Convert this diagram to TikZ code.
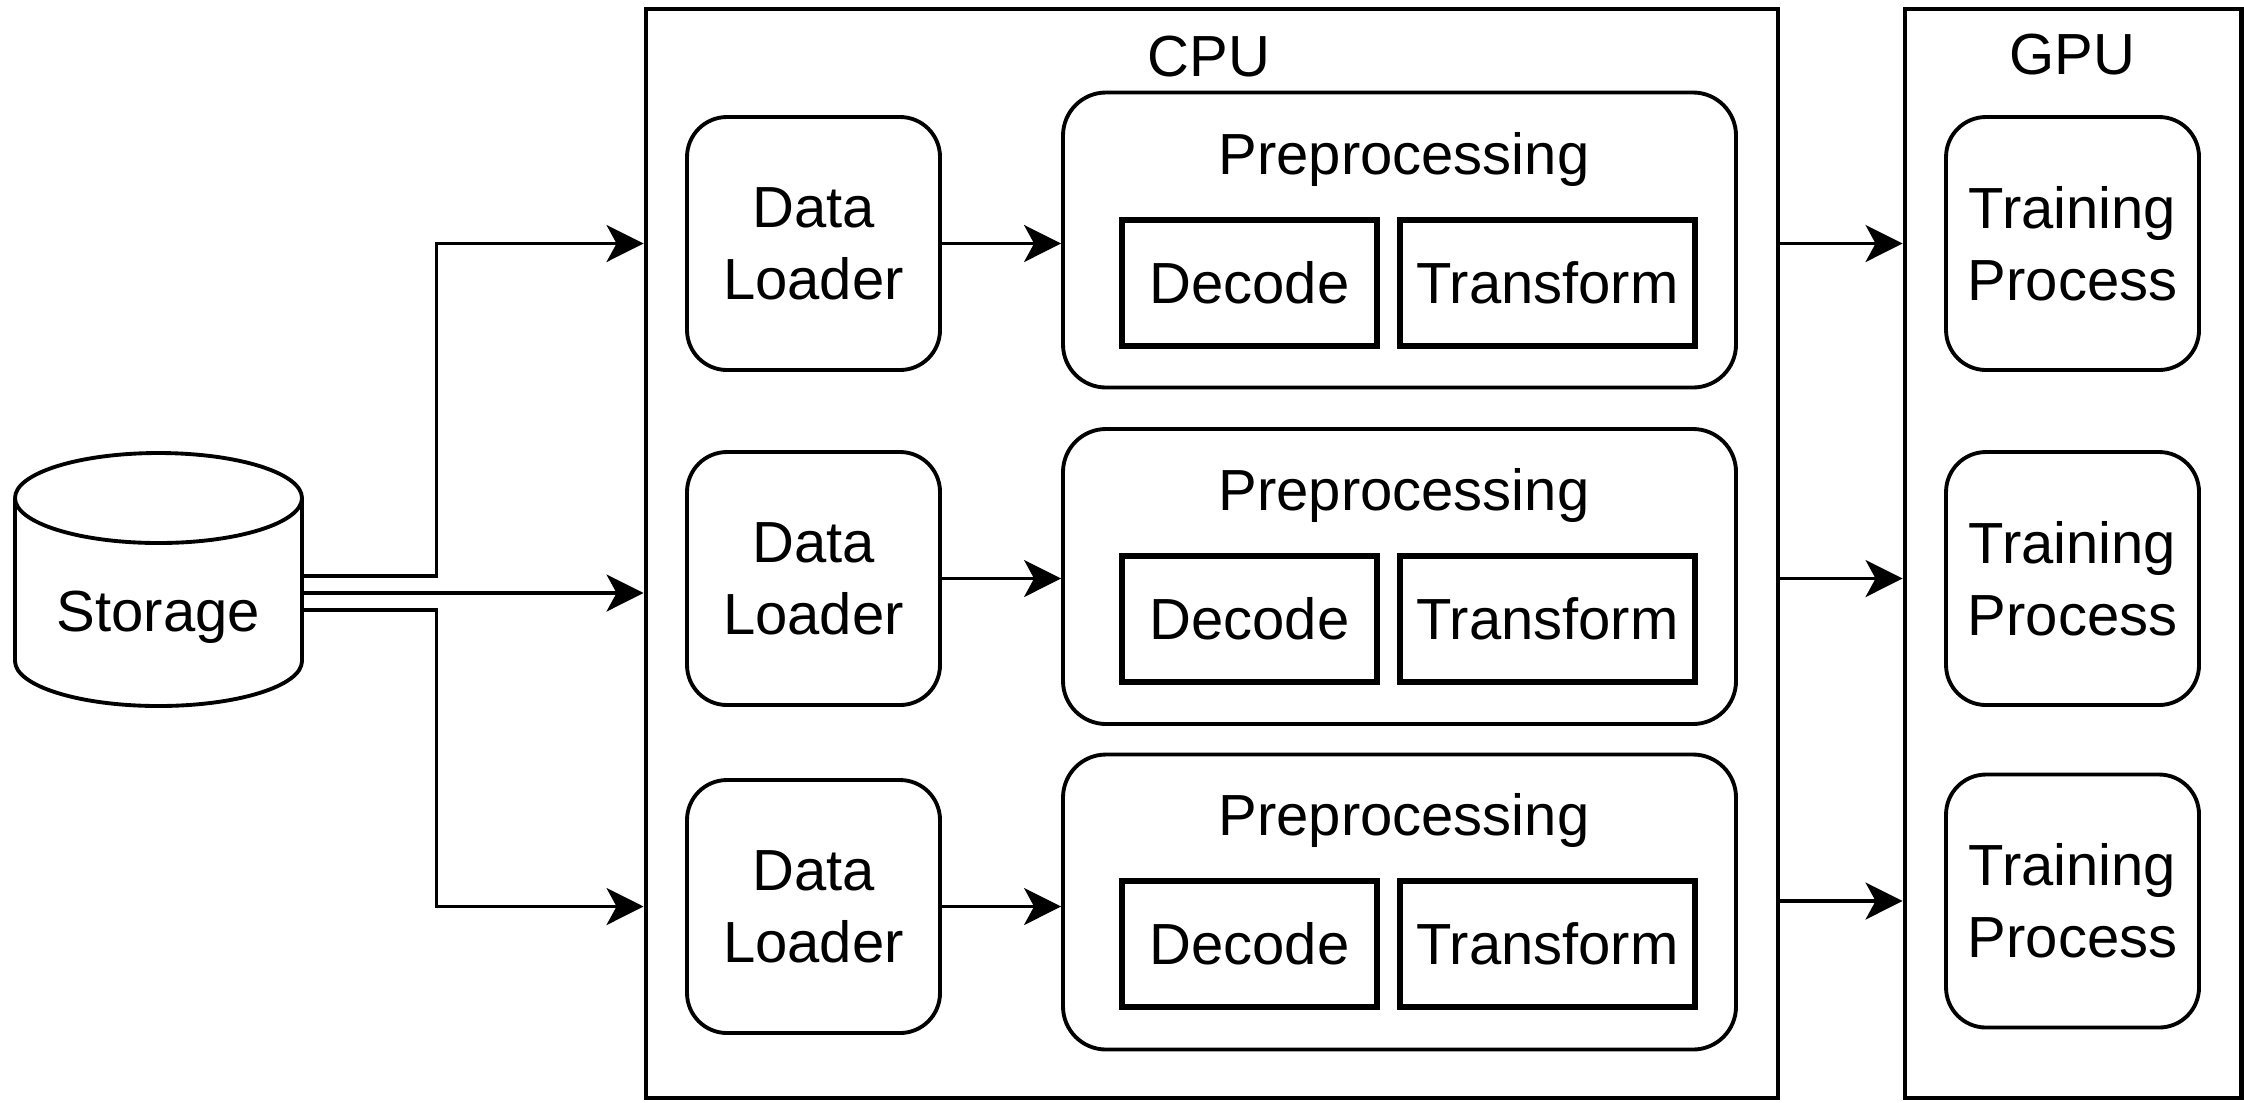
\documentclass[tikz,border=0pt]{standalone}
\usepackage{fontspec}
\setmainfont{Liberation Sans}
\usetikzlibrary{arrows.meta,calc}
\begin{document}
\begin{tikzpicture}[
  txt/.style={font=\fontsize{16.5}{20.5}\selectfont, align=center, inner sep=0pt},
  rbox/.style={txt, draw, line width=1.1pt, rounded corners=0.4cm},
  sqbox/.style={txt, draw, line width=1.6pt},
  bigbox/.style={draw, line width=1.4pt, inner sep=0pt},
  arr/.style={line width=0.95pt, -{Stealth[length=3.7mm,width=3.7mm,inset=1mm]}},
  cyl/.style={line width=1.1pt}
]
\useasboundingbox[fill=white] (0,0) rectangle (22.44,-11.02);

% containers
\node[bigbox, minimum width=11.32cm, minimum height=10.89cm] (cpu) at (12.12,-5.535) {};
\node[bigbox, minimum width=3.36cm, minimum height=10.89cm] (gpu) at (20.73,-5.535) {};
\node[txt] (cpulbl) at (12.09,-0.57) {CPU};
\node[txt] (gpulbl) at (20.72,-0.55) {GPU};

% storage cylinder
\node[inner sep=0pt, minimum width=2.87cm, minimum height=2.53cm] (storage) at (1.585,-5.795) {};
\draw[cyl] (0.15,-4.98) arc[start angle=180, end angle=-180, x radius=1.435cm, y radius=0.45cm];
\draw[cyl] (0.15,-4.98) -- (0.15,-6.61) arc[start angle=180, end angle=360, x radius=1.435cm, y radius=0.45cm] -- (3.02,-4.98);
\node[txt] (storlbl) at (1.585,-6.17) {Storage};

% data loaders
\foreach \i/\y in {1/2.435, 2/5.785, 3/9.065}{
  \node[rbox, minimum width=2.53cm, minimum height=2.53cm] (dl\i) at (8.135,-\y) {Data\\Loader};
}
% preprocessing
\foreach \i/\y/\ly/\dy in {1/2.40/1.59/2.83, 2/5.765/4.95/6.19, 3/9.02/8.20/9.44}{
  \node[draw, line width=1.1pt, rounded corners=0.43cm, minimum width=6.73cm, minimum height=2.95cm, inner sep=0pt] (prep\i) at (13.995,-\y) {};
  \node[txt] (preplbl\i) at (14.04,-\ly) {Preprocessing};
  \node[sqbox, minimum width=2.55cm, minimum height=1.26cm] (dec\i) at (12.495,-\dy) {Decode};
  \node[sqbox, minimum width=2.95cm, minimum height=1.26cm] (tra\i) at (15.475,-\dy) {Transform};
}
% training processes
\foreach \i/\y in {1/2.435, 2/5.785, 3/9.01}{
  \node[rbox, minimum width=2.53cm, minimum height=2.53cm] (tp\i) at (20.725,-\y) {Training\\Process};
}

% storage -> CPU
\draw[arr] ([yshift=0.35mm]storage.east) -- ++(1.34,0) |- (cpu.west |- dl1.east);
\draw[arr] ([yshift=-1.35mm]storage.east) coordinate (s2) -- (s2 -| cpu.west);
\draw[arr] ([yshift=-3.05mm]storage.east) -- ++(1.34,0) |- (cpu.west |- dl3.east);

% DL -> Prep, CPU -> GPU
\foreach \i in {1,2,3}{
  \draw[arr] (dl\i.east) -- (dl\i.east -| prep\i.west);
  \draw[arr] (cpu.east |- tp\i.west) -- (gpu.west |- tp\i.west);
}
\end{tikzpicture}
\end{document}
